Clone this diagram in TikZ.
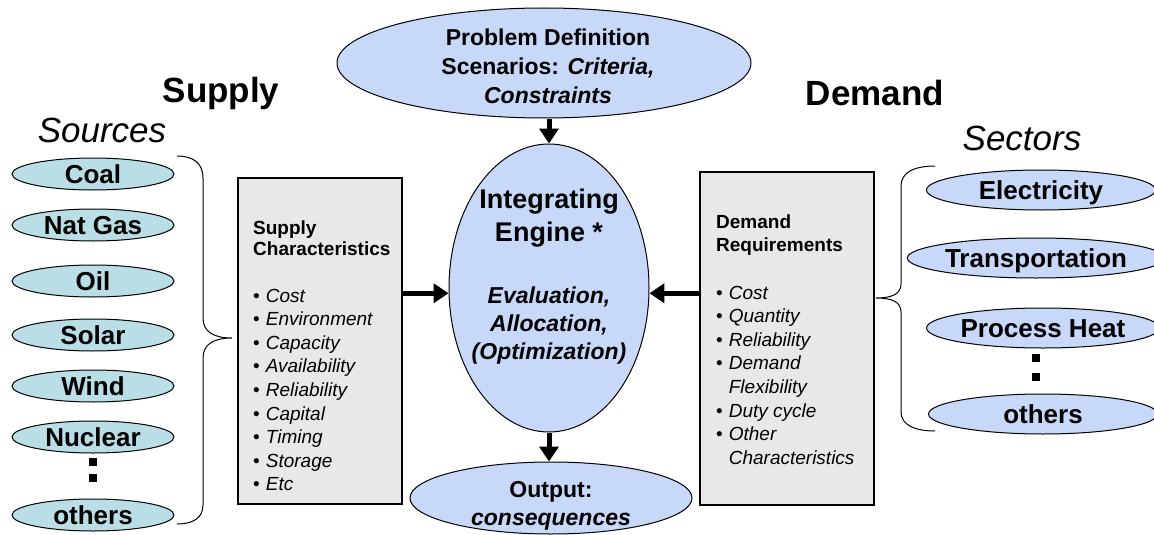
\documentclass[tikz,border=0pt]{standalone}
\usepackage{fontspec}
\setmainfont{Liberation Sans}
\usetikzlibrary{shapes.geometric,arrows.meta}

\definecolor{srcfill}{HTML}{B9DEE6}
\definecolor{bluefill}{HTML}{C8D8F8}
\definecolor{boxfill}{HTML}{E8E8E8}
\newcommand{\fsz}[2]{\fontsize{#1}{#2}\selectfont}

\tikzset{
  src/.style={ellipse, draw, line width=1pt, fill=srcfill, minimum width=162pt,
    minimum height=32pt, inner sep=0pt, font=\fsz{26}{30}\bfseries,
    text height=18.6pt, text depth=0pt},
  sect/.style={ellipse, draw, line width=1pt, fill=bluefill, minimum width=229pt,
    minimum height=40pt, inner sep=0pt, font=\fsz{26}{30}\bfseries,
    text height=18.6pt, text depth=0pt},
  bigell/.style={ellipse, draw, line width=1pt, fill=bluefill, inner sep=0pt},
  panel/.style={draw, line width=1.5pt, fill=boxfill, inner sep=0pt, anchor=north west},
  flow/.style={line width=5pt, -{Triangle[length=15pt,width=19pt]}},
  head/.style={font=\fsz{35}{40}\bfseries, inner sep=0pt},
  subhead/.style={font=\fsz{35}{40}\itshape, inner sep=0pt},
  ln/.style={anchor=base west, inner sep=0pt, font=\fsz{19}{23}},
  lnb/.style={ln, font=\fsz{19}{23}\bfseries},
  sq/.style={fill, minimum size=8pt, inner sep=0pt},
  brace/.style={line width=1pt},
}

\begin{document}
\begin{tikzpicture}[x=1pt, y=-1pt]
\useasboundingbox (0,0) rectangle (1154,535);

% column headings
\node[head] (supplyhd) at (221,93) {Supply};
\node[head] (demandhd) at (875,93) {Demand};
\node[subhead] (srchd) at (102,130) {Sources};
\node[subhead] (secthd) at (1022,138) {Sectors};

% energy sources
\node[src] (coal) at (93,174) {Coal};
\node[src] (gas) at (93,225) {Nat Gas};
\node[src] (oil) at (93,281) {Oil};
\node[src] (solar) at (93,335) {Solar};
\node[src] (wind) at (93,386) {Wind};
\node[src] (nuclear) at (93,437) {Nuclear};
\node[sq] (ldot1) at (93,462) {};
\node[sq] (ldot2) at (93,478) {};
\node[src] (lothers) at (93,515) {others};

% demand sectors
\node[sect] (elec) at (1041,190) {Electricity};
\node[sect] (trans) at (1036,258) {Transportation};
\node[sect] (heat) at (1043,328) {Process Heat};
\node[sq] (rdot1) at (1036,358) {};
\node[sq] (rdot2) at (1036,377) {};
\node[sect] (rothers) at (1043,414) {others};

% braces grouping the sources and the sectors
\draw[brace] (177,156) .. controls (193,156) and (203,163) .. (203,178) -- (203,318)
  .. controls (203,332) and (214,338) .. (232,338)
  .. controls (214,338) and (203,344) .. (203,358) -- (203,505)
  .. controls (203,518) and (193,524) .. (177,524);
\draw[brace] (935,166) .. controls (915,166) and (901,172) .. (901,186) -- (901,284)
  .. controls (901,294) and (892,298) .. (876,298)
  .. controls (892,298) and (901,302) .. (901,312) -- (901,412)
  .. controls (901,425) and (915,431) .. (935,431);

% supply characteristics panel
\node[panel, minimum width=164pt, minimum height=326pt] (sup) at (237,177) {};
\node[lnb] (suph1) at (253,234) {Supply};
\node[lnb] (suph2) at (253,255) {Characteristics};
\foreach \t [count=\i] in {Cost,Environment,Capacity,Availability,Reliability,Capital,Timing,Storage,Etc}
  \node[ln] (supi\i) at (253,278.4+23.6*\i) {\textbullet\hspace{6pt}\textit{\t}};

% demand requirements panel
\node[panel, minimum width=174pt, minimum height=333pt] (dem) at (699,171) {};
\node[lnb] (demh1) at (716,228) {Demand};
\node[lnb] (demh2) at (716,251) {Requirements};
\node[ln] (demi1) at (716,299) {\textbullet\hspace{6pt}\textit{Cost}};
\node[ln] (demi2) at (716,322.6) {\textbullet\hspace{6pt}\textit{Quantity}};
\node[ln] (demi3) at (716,346.2) {\textbullet\hspace{6pt}\textit{Reliability}};
\node[ln] (demi4) at (716,369.8) {\textbullet\hspace{6pt}\textit{Demand}};
\node[ln] (demi5) at (716,393.4) {\phantom{\textbullet}\hspace{6pt}\textit{Flexibility}};
\node[ln] (demi6) at (716,417) {\textbullet\hspace{6pt}\textit{Duty cycle}};
\node[ln] (demi7) at (716,440.6) {\textbullet\hspace{6pt}\textit{Other}};
\node[ln] (demi8) at (716,464.2) {\phantom{\textbullet}\hspace{6pt}\textit{Characteristics}};

% problem definition, engine and output
\node[bigell, minimum width=414pt, minimum height=110pt] (pd) at (544,63) {};
\node[align=center, inner sep=0pt, font=\fsz{23}{29}\bfseries] (pdt) at (548,66)
  {Problem Definition\\Scenarios: \textit{Criteria,}\\\textit{Constraints}};
\node[bigell, minimum width=200pt, minimum height=288pt] (eng) at (549,288) {};
\node[align=center, inner sep=0pt, font=\fsz{27}{33}\bfseries] (engt1) at (549,218)
  {Integrating\\Engine *};
\node[align=center, inner sep=0pt, font=\fsz{23}{28}\bfseries\itshape] (engt2) at (549,326)
  {Evaluation,\\Allocation,\\(Optimization)};
\node[bigell, minimum width=282pt, minimum height=72pt] (out) at (551,498) {};
\node[align=center, inner sep=0pt, font=\fsz{23}{28}\bfseries] (outt) at (551,506)
  {Output:\\\textit{consequences}};

% flows into and out of the engine
\draw[flow] (eng.north |- pd.south) -- (eng.north);
\draw[flow] (eng.south) -- (eng.south |- out.north);
\draw[flow] (sup.east |- eng.183) -- (eng.183);
\draw[flow] (dem.west |- eng.357) -- (eng.357);
\end{tikzpicture}
\end{document}
